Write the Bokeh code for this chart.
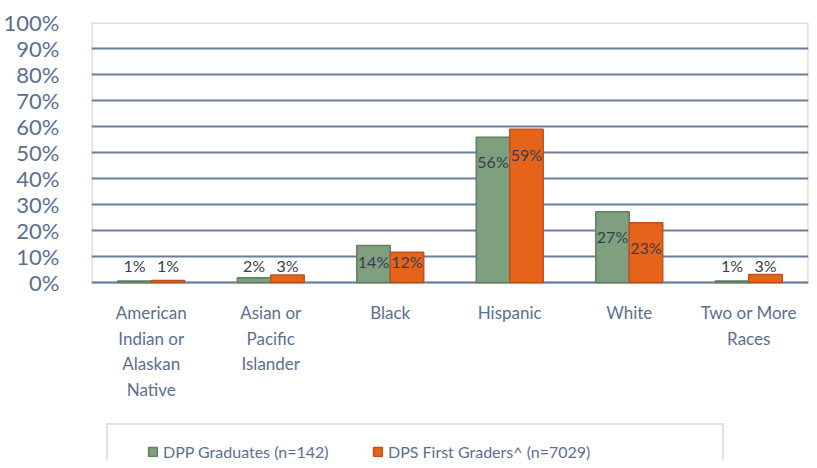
from bokeh.plotting import figure
from bokeh.models import (ColumnDataSource, FactorRange, FixedTicker, PrintfTickFormatter,
                          LabelSet, Legend, LegendItem, Range1d, BoxAnnotation)
from bokeh.core.properties import value
from bokeh.transform import dodge
from bokeh.embed import file_html
from bokeh.resources import INLINE

categories = ["American Indian or Alaskan Native", "Asian or Pacific Islander", "Black",
              "Hispanic", "White", "Two or More Races"]
tick_labels = [["American", "Indian or", "Alaskan", "Native"], ["Asian or", "Pacific", "Islander"],
               ["Black"], ["Hispanic"], ["White"], ["Two or More", "Races"]]
dpp_graduates = [0.6, 1.8, 14.2, 55.9, 27.2, 0.6]
dps_first_graders = [0.8, 2.9, 11.6, 58.9, 23.0, 3.1]
series_names = ["DPP Graduates (n=142)", "DPS First Graders^ (n=7029)"]
y_ticks = [0, 10, 20, 30, 40, 50, 60, 70, 80, 90, 100]

FONT = "Lato"
SLATE = "#5b6f8f"
GRID = "#6a7e9f"

# layout (pixels)
TOP = 22              # frame top (100% line)
PLOT_H = 260          # height of the 0..100 band
FIG_H = 460
BELOW = FIG_H - TOP - PLOT_H   # frame extends this far below the 0 line
PX = PLOT_H / 100.0   # pixels per percent


def label_pos(v):
    if v >= 20:
        return v - 9.5
    if v >= 10:
        return 8
    return 6.5


src = ColumnDataSource(dict(
    cat=categories,
    g=dpp_graduates,
    o=dps_first_graders,
    g_lab=[f"{round(v)}%" for v in dpp_graduates],
    o_lab=[f"{round(v)}%" for v in dps_first_graders],
    g_y=[label_pos(v) for v in dpp_graduates],
    o_y=[label_pos(v) for v in dps_first_graders],
))

p = figure(width=809, height=FIG_H, x_range=FactorRange(factors=categories, range_padding=0),
           y_range=Range1d(-BELOW / PX, 100), output_backend="svg", toolbar_location=None,
           min_border_left=91, min_border_top=TOP, min_border_right=1, min_border_bottom=0)

p.outline_line_color = None
p.xaxis.visible = False

p.ygrid.grid_line_color = GRID
p.ygrid.grid_line_width = 2
p.xgrid.grid_line_color = None

p.add_layout(BoxAnnotation(bottom=0, top=100, fill_alpha=0, line_color=GRID, line_width=2.5,
                           level="underlay"))

g = p.vbar(x=dodge("cat", -0.14, range=p.x_range), top="g", width=0.28, source=src,
           fill_color="#7fa07f", line_color="#5f7f5f", line_width=1.5)
o = p.vbar(x=dodge("cat", 0.14, range=p.x_range), top="o", width=0.28, source=src,
           fill_color="#e5641a", line_color="#c0501a", line_width=1.5)

for col, lab, off in (("g_y", "g_lab", -0.14), ("o_y", "o_lab", 0.14)):
    p.add_layout(LabelSet(x=dodge("cat", off, range=p.x_range), y=col, text=lab, source=src,
                          text_align="center", text_baseline="middle", text_font=value(FONT),
                          text_font_size="16px", text_color="#353d50"))

# category labels (one text per line)
lx, ly, lt = [], [], []
for c, lines in zip(categories, tick_labels):
    for i, t in enumerate(lines):
        lx.append(c)
        ly.append(-(30 + 25.5 * i) / PX)
        lt.append(t)
p.add_layout(LabelSet(x="x", y="y", text="t", source=ColumnDataSource(dict(x=lx, y=ly, t=lt)),
                      text_align="center", text_baseline="middle", text_font=value(FONT),
                      text_font_size="17px", text_color=SLATE))

# y axis
p.yaxis.ticker = FixedTicker(ticks=y_ticks)
p.yaxis.formatter = PrintfTickFormatter(format="%d%%")
p.yaxis.major_label_text_font = FONT
p.yaxis.major_label_text_font_size = "22px"
p.yaxis.major_label_text_color = SLATE
p.yaxis.major_tick_line_color = None
p.yaxis.minor_tick_line_color = None
p.yaxis.major_label_standoff = 26
p.yaxis.axis_line_color = None

# legend frame (box only); bottom edge falls below the window as in the original
dummy = p.scatter([], [], fill_alpha=0, line_alpha=0)
box = Legend(items=[LegendItem(label=" ", renderers=[dummy])], location=(15, -19),
             padding=16, label_width=566, glyph_width=11, glyph_height=11, label_height=20,
             border_line_color="#b9c4d4", border_line_width=2, background_fill_alpha=0,
             label_text_font_size="16px")
p.add_layout(box)

leg = Legend(items=[LegendItem(label=series_names[0], renderers=[g]),
                    LegendItem(label=series_names[1], renderers=[o])],
             location=(56, -1), orientation="horizontal", padding=0, margin=0,
             glyph_width=11, glyph_height=11, label_standoff=5, label_width=190,
             label_height=16, spacing=19, border_line_color=None, background_fill_alpha=0,
             label_text_font=FONT, label_text_font_size="16px", label_text_color=SLATE)
p.add_layout(leg)

open("out.html", "w").write(file_html(p, INLINE))
